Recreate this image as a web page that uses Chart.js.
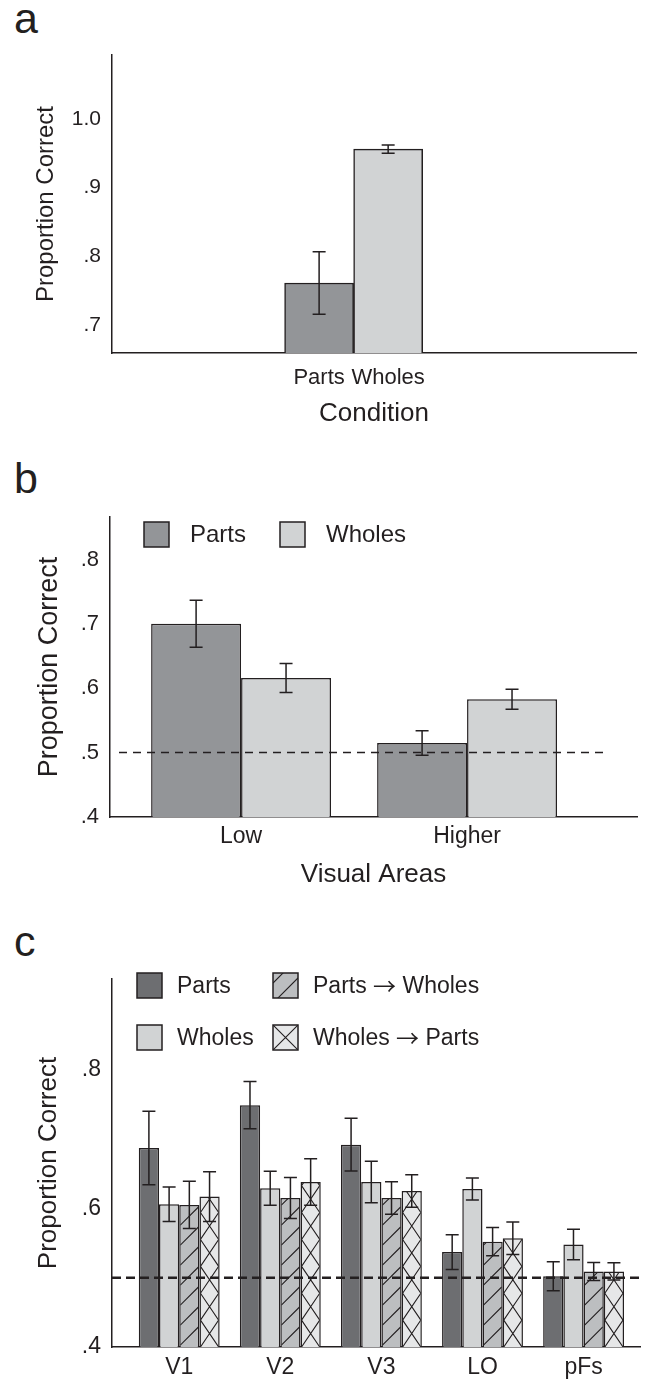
<!DOCTYPE html>
<html>
<head>
<meta charset="utf-8">
<title>Proportion correct by condition and visual area</title>
<script src="https://cdn.jsdelivr.net/npm/chart.js@4.4.1/dist/chart.umd.min.js"></script>
<style>
  body { margin: 0; background: #fff; }
  #page { position: relative; width: 650px; height: 1382px; overflow: hidden;
          font-family: "Liberation Sans", Arial, sans-serif; color: #231f20; }
  .tag { position: absolute; left: 14px; font-size: 43px; line-height: 1; }
  .panel { position: absolute; left: 0; width: 650px; }
</style>
</head>
<body>
<div id="page">
  <div class="tag" style="top:-3px">a</div>
  <div class="tag" style="top:457px">b</div>
  <div class="tag" style="top:920px">c</div>
  <div class="panel" style="top:0"><canvas id="chartA" width="650" height="440"></canvas></div>
  <div class="panel" style="top:440px"><canvas id="chartB" width="650" height="460"></canvas></div>
  <div class="panel" style="top:900px"><canvas id="chartC" width="650" height="482"></canvas></div>
</div>
<script>
// --- panel a: behaviour ---
const conditions = ['Parts', 'Wholes'];
const conditionMeans = [0.761, 0.956];
const conditionErr = [0.0455, 0.006];
const conditionTicks = [0.7, 0.8, 0.9, 1.0];

// --- panel b: low vs higher visual areas ---
const areaGroups = ['Low', 'Higher'];
const groupPartsMeans = [0.700, 0.515];
const groupPartsErr = [0.0365, 0.019];
const groupWholesMeans = [0.616, 0.583];
const groupWholesErr = [0.0225, 0.0155];
const groupTicks = [0.4, 0.5, 0.6, 0.7, 0.8];

// --- panel c: single ROIs ---
const rois = ['V1', 'V2', 'V3', 'LO', 'pFs'];
const roiParts = [0.687, 0.749, 0.692, 0.537, 0.502];
const roiPartsErr = [0.053, 0.034, 0.038, 0.025, 0.021];
const roiWholes = [0.606, 0.629, 0.638, 0.628, 0.548];
const roiWholesErr = [0.025, 0.0245, 0.030, 0.016, 0.022];
const roiPartsToWholes = [0.605, 0.615, 0.615, 0.552, 0.509];
const roiPartsToWholesErr = [0.034, 0.0295, 0.0235, 0.0205, 0.013];
const roiWholesToParts = [0.617, 0.638, 0.625, 0.557, 0.509];
const roiWholesToPartsErr = [0.036, 0.0335, 0.0235, 0.0235, 0.0125];
const roiTicks = [0.4, 0.6, 0.8];

const chanceLevel = 0.5;

// colours
const INK = '#231f20';
const GREY_MID = '#939598';
const GREY_LIGHT = '#d1d3d4';
const GREY_DARK = '#6d6e71';
const GREY_HATCH = '#bcbec0';
const GREY_PALE = '#e6e7e8';
const FONT = '"Liberation Sans", Arial, sans-serif';
const ARROW_FONT = '"Noto Sans CJK JP", "DejaVu Sans", sans-serif';
const HATCH_STEP = 20;

Chart.defaults.font.family = FONT;
Chart.defaults.color = INK;
Chart.defaults.animation = false;

const asPoints = (vals) => vals.map((v, i) => ({ x: i, y: v }));
const fmtTick = (v) => (v >= 1 ? v.toFixed(1) : v.toFixed(1).replace(/^0/, ''));

function drawHatch(ctx, kind, l, t, r, b, period) {
    if (b <= t) return;
    ctx.save();
    ctx.beginPath();
    ctx.rect(l, t, r - l, b - t);
    ctx.clip();
    ctx.strokeStyle = INK;
    ctx.lineWidth = 1.1;
    ctx.beginPath();
    const w = r - l;
    if (kind === 'diag') {
        for (let y0 = b + w; y0 > t - period; y0 -= period) {
            ctx.moveTo(l, y0);
            ctx.lineTo(r, y0 - w);
        }
    } else {
        for (let y0 = b; y0 > t - period; y0 -= period) {
            ctx.moveTo(l, y0);
            ctx.lineTo(r, y0 - period);
            ctx.moveTo(l, y0 - period);
            ctx.lineTo(r, y0);
        }
    }
    ctx.stroke();
    ctx.restore();
}

// legend text; the arrow comes from a font with a long thin arrow glyph
function drawLabel(ctx, text, x, y, size) {
    const parts = text.split('\u2192');
    let cx = x;
    parts.forEach((piece, i) => {
        ctx.font = size + 'px ' + FONT;
        ctx.fillText(piece, cx, y);
        cx += ctx.measureText(piece).width;
        if (i < parts.length - 1) {
            ctx.font = size + 'px ' + ARROW_FONT;
            ctx.fillText('\u2192', cx, y);
            cx += ctx.measureText('\u2192').width;
        }
    });
}

// hatching, chance line, error bars and the boxed legend
const figureExtras = {
    id: 'figureExtras',
    afterDatasetsDraw(chart) {
        const opts = chart.options.plugins.figureExtras || {};
        const ctx = chart.ctx;
        const area = chart.chartArea;
        const yScale = chart.scales.y;

        chart.data.datasets.forEach((ds, di) => {
            if (!ds.hatch) return;
            chart.getDatasetMeta(di).data.forEach(bar => {
                const l = bar.x - bar.width / 2, r = bar.x + bar.width / 2;
                const t = Math.min(bar.y, bar.base);
                const b = Math.min(Math.max(bar.y, bar.base), area.bottom);
                const period = ds.hatch === 'cross' ? bar.width * 1.33 : HATCH_STEP;
                drawHatch(ctx, ds.hatch, l + 1, t + 1, r - 1, b, period);
            });
        });

        if (opts.chance !== undefined) {
            const y = yScale.getPixelForValue(opts.chance);
            ctx.save();
            ctx.strokeStyle = INK;
            ctx.lineWidth = opts.dashWidth;
            ctx.setLineDash(opts.dash);
            ctx.beginPath();
            ctx.moveTo(area.left + opts.dashFrom, y);
            ctx.lineTo(area.right + opts.dashTo, y);
            ctx.stroke();
            ctx.restore();
        }

        ctx.save();
        ctx.strokeStyle = INK;
        ctx.lineWidth = 1.5;
        chart.data.datasets.forEach((ds, di) => {
            chart.getDatasetMeta(di).data.forEach((bar, i) => {
                const m = ds.data[i].y, e = ds.err[i];
                const yHi = yScale.getPixelForValue(m + e);
                const yLo = yScale.getPixelForValue(m - e);
                const cap = 6.5;
                ctx.beginPath();
                ctx.moveTo(bar.x, yHi); ctx.lineTo(bar.x, yLo);
                ctx.moveTo(bar.x - cap, yHi); ctx.lineTo(bar.x + cap, yHi);
                ctx.moveTo(bar.x - cap, yLo); ctx.lineTo(bar.x + cap, yLo);
                ctx.stroke();
            });
        });
        ctx.restore();

        const lg = opts.legend;
        if (lg) {
            ctx.save();
            ctx.textBaseline = 'middle';
            ctx.textAlign = 'left';
            chart.data.datasets.forEach((ds, k) => {
                const col = Math.floor(k / lg.rows), row = k % lg.rows;
                const bx = area.left + lg.left + col * lg.colGap;
                const by = area.top + lg.top + row * lg.rowGap;
                ctx.fillStyle = ds.backgroundColor;
                ctx.fillRect(bx, by, lg.box, lg.box);
                if (ds.hatch) {
                    drawHatch(ctx, ds.hatch, bx, by, bx + lg.box, by + lg.box,
                              ds.hatch === 'cross' ? lg.box : HATCH_STEP);
                }
                ctx.strokeStyle = INK;
                ctx.lineWidth = 1.5;
                ctx.strokeRect(bx, by, lg.box, lg.box);
                ctx.fillStyle = INK;
                drawLabel(ctx, ds.label, bx + lg.box + lg.gap, by + lg.box / 2 + 1, lg.size);
            });
            ctx.restore();
        }
    }
};

function makePanel(id, p) {
    const canvas = document.getElementById(id);
    if (!canvas) {
        console.error('Canvas not found:', id);
        return null;
    }
    return new Chart(canvas.getContext('2d'), {
        type: 'bar',
        data: { datasets: p.datasets },
        plugins: [figureExtras],
        options: {
            responsive: false,
            events: [],
            layout: { padding: { left: 0, top: p.top, right: 650 - p.right, bottom: 0 } },
            datasets: {
                bar: {
                    categoryPercentage: p.catPct,
                    barPercentage: 1,
                    borderColor: INK,
                    borderWidth: 1.5,
                    borderSkipped: 'start'
                }
            },
            plugins: {
                legend: { display: false },
                tooltip: { enabled: false },
                figureExtras: p.extras
            },
            scales: {
                x: {
                    type: 'linear',
                    offset: false,
                    min: p.xMin,
                    max: p.xMax,
                    grid: { display: false, drawTicks: false, offset: false },
                    border: { display: true, color: INK, width: 1.5 },
                    afterBuildTicks: s => { s.ticks = p.labels.map((_, i) => ({ value: i })); },
                    afterFit: s => { s.height = p.xHeight; },
                    ticks: {
                        autoSkip: false,
                        maxRotation: 0,
                        padding: p.xTickPad,
                        font: { size: p.xTickSize },
                        color: INK,
                        callback: v => p.labels[v]
                    },
                    title: p.xTitle ? {
                        display: true,
                        text: p.xTitle,
                        font: { size: 26 },
                        color: INK,
                        padding: { top: 0, bottom: p.xTitlePad }
                    } : { display: false }
                },
                y: {
                    min: p.yMin,
                    max: p.yMax,
                    grid: { display: false, drawTicks: false },
                    border: { display: true, color: INK, width: 1.5 },
                    afterBuildTicks: s => { s.ticks = p.yTicks.map(v => ({ value: v })); },
                    afterFit: s => { s.width = p.left; },
                    ticks: {
                        padding: 11,
                        font: { size: p.yTickSize },
                        color: INK,
                        callback: v => fmtTick(v)
                    },
                    title: {
                        display: true,
                        text: 'Proportion Correct',
                        font: { size: p.yTitleSize },
                        color: INK,
                        padding: { top: p.yTitlePad, bottom: 0 }
                    }
                }
            }
        }
    });
}

document.addEventListener('DOMContentLoaded', function () {
    if (typeof Chart === 'undefined') {
        console.error('Chart.js did not load');
        return;
    }

    makePanel('chartA', {
        datasets: [{
            label: 'Condition',
            data: asPoints(conditionMeans),
            err: conditionErr,
            backgroundColor: [GREY_MID, GREY_LIGHT]
        }],
        labels: conditions,
        left: 112, right: 636, top: 55, xHeight: 87,
        xMin: -3.0, xMax: 4.59, catPct: 1,
        yMin: 0.659, yMax: 1.093, yTicks: conditionTicks,
        xTickSize: 22, xTickPad: 12, xTitle: 'Condition', xTitlePad: 11,
        yTickSize: 21, yTitleSize: 24, yTitlePad: 32,
        extras: {}
    });

    makePanel('chartB', {
        datasets: [
            { label: 'Parts', data: asPoints(groupPartsMeans), err: groupPartsErr, backgroundColor: GREY_MID },
            { label: 'Wholes', data: asPoints(groupWholesMeans), err: groupWholesErr, backgroundColor: GREY_LIGHT }
        ],
        labels: areaGroups,
        left: 110, right: 637, top: 77, xHeight: 83,
        xMin: -0.580, xMax: 1.752, catPct: 0.796,
        yMin: 0.4, yMax: 0.866, yTicks: groupTicks,
        xTickSize: 23, xTickPad: 6, xTitle: 'Visual Areas', xTitlePad: 10,
        yTickSize: 22, yTitleSize: 27, yTitlePad: 33,
        extras: {
            chance: chanceLevel, dash: [8, 6], dashWidth: 1.5, dashFrom: 9, dashTo: -31,
            legend: { rows: 1, left: 34, top: 5, colGap: 136, rowGap: 0, box: 25, gap: 21, size: 24 }
        }
    });

    makePanel('chartC', {
        datasets: [
            { label: 'Parts', data: asPoints(roiParts), err: roiPartsErr, backgroundColor: GREY_DARK },
            { label: 'Wholes', data: asPoints(roiWholes), err: roiWholesErr, backgroundColor: GREY_LIGHT },
            { label: 'Parts \u2192 Wholes', data: asPoints(roiPartsToWholes), err: roiPartsToWholesErr,
              backgroundColor: GREY_HATCH, hatch: 'diag' },
            { label: 'Wholes \u2192 Parts', data: asPoints(roiWholesToParts), err: roiWholesToPartsErr,
              backgroundColor: GREY_PALE, hatch: 'cross' }
        ],
        labels: rois,
        left: 112, right: 640, top: 79, xHeight: 35,
        xMin: -0.665, xMax: 4.558, catPct: 0.80,
        yMin: 0.4, yMax: 0.931, yTicks: roiTicks,
        xTickSize: 23, xTickPad: 7, xTitle: null, xTitlePad: 0,
        yTickSize: 23, yTitleSize: 26, yTitlePad: 33,
        extras: {
            chance: chanceLevel, dash: [9, 5], dashWidth: 2.5, dashFrom: 0, dashTo: 2,
            legend: { rows: 2, left: 25, top: -6, colGap: 136, rowGap: 52, box: 25, gap: 15, size: 23 }
        }
    });
});
</script>
</body>
</html>
